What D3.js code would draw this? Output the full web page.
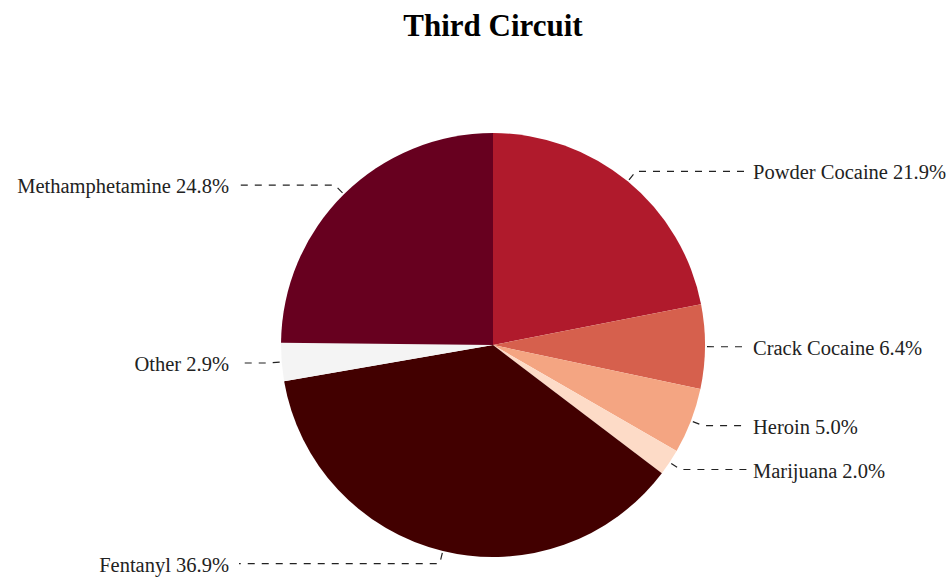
<!DOCTYPE html>
<html>
<head>
<meta charset="utf-8">
<script src="https://cdn.jsdelivr.net/npm/d3@7"></script>
<style>
  html, body { margin: 0; padding: 0; background: #fff; }
  svg { display: block; }
</style>
</head>
<body>
<svg id="chart" width="950" height="577"></svg>
<script>
const title = "Third Circuit";
const categories = ["Powder Cocaine", "Crack Cocaine", "Heroin", "Marijuana", "Fentanyl", "Other", "Methamphetamine"];
const values = [21.9, 6.4, 5.0, 2.0, 36.9, 2.9, 24.8];
const colors = ["#b01a2c", "#d6604d", "#f4a582", "#fddbc7", "#420000", "#f4f4f4", "#67001f"];

const W = 950, H = 577;
const cx = 493, cy = 345, r = 212;
const elbowR = 225;
const rightTextX = 753, leftTextX = 229;
const rightLineX = 748, leftLineX = 239;

const svg = d3.select("#chart");

svg.append("text")
  .attr("x", cx).attr("y", 36)
  .attr("text-anchor", "middle")
  .style("font-family", "'Liberation Serif', 'Times New Roman', serif")
  .style("font-weight", "bold")
  .style("font-size", "31px")
  .attr("fill", "#000")
  .text(title);

const data = categories.map((c, i) => ({ name: c, value: values[i], color: colors[i] }));
const pie = d3.pie().sort(null).value(d => d.value);
const arcs = pie(data);
const arc = d3.arc().innerRadius(0).outerRadius(r);

const g = svg.append("g").attr("transform", `translate(${cx},${cy})`);

g.selectAll("path.slice")
  .data(arcs)
  .join("path")
  .attr("class", "slice")
  .attr("d", arc)
  .attr("fill", d => d.data.color);

function pt(a, rad) { return [Math.sin(a) * rad, -Math.cos(a) * rad]; }

arcs.forEach(d => {
  const mid = (d.startAngle + d.endAngle) / 2;
  const right = Math.sin(mid) > 0;
  const p0 = pt(mid, r + 2);
  const p1 = pt(mid, elbowR);
  const p2 = [(right ? rightLineX : leftLineX) - cx, p1[1]];
  g.append("polyline")
    .attr("points", [p0, p1, p2].map(p => p.join(",")).join(" "))
    .attr("fill", "none")
    .attr("stroke", "#222")
    .attr("stroke-width", 1.2)
    .attr("stroke-dasharray", "7,7");
  g.append("text")
    .attr("x", (right ? rightTextX : leftTextX) - cx)
    .attr("y", p1[1] + 1)
    .attr("dy", "0.35em")
    .attr("text-anchor", right ? "start" : "end")
    .style("font-family", "'Liberation Serif', 'Times New Roman', serif")
    .style("font-size", "20.5px")
    .attr("fill", "#222")
    .text(`${d.data.name} ${d.data.value.toFixed(1)}%`);
});
</script>
</body>
</html>
